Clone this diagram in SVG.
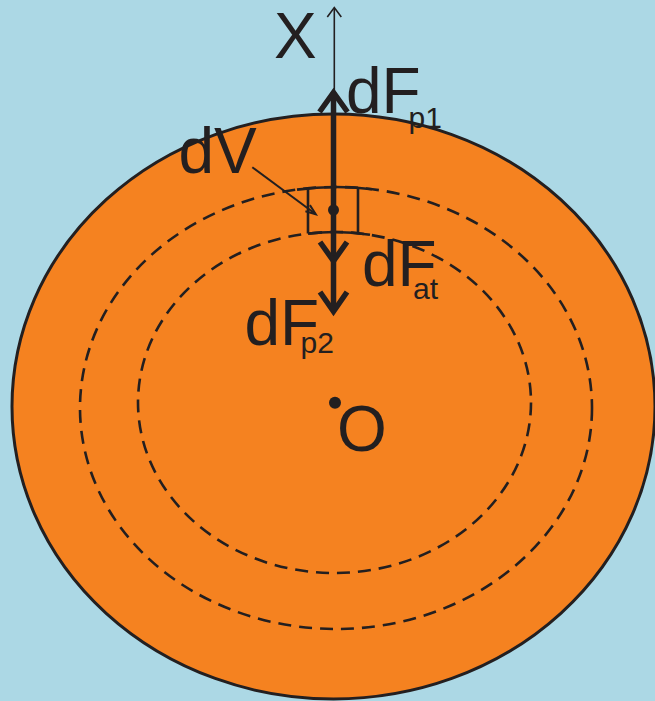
<svg xmlns="http://www.w3.org/2000/svg" width="655" height="701" viewBox="0 0 655 701">
<style>
.ink{stroke:#231f20;fill:none}
.dash{stroke:#231f20;fill:none;stroke-width:2.6;stroke-dasharray:13 8}
.lbl{font-family:"Liberation Sans",Arial,sans-serif;font-size:64px;fill:#231f20}
.sub{font-family:"Liberation Sans",Arial,sans-serif;font-size:30px;fill:#231f20}
.thick{stroke:#231f20;fill:none;stroke-width:5.5;stroke-linejoin:miter;stroke-miterlimit:10}
</style>
<rect x="0" y="0" width="655" height="701" fill="#acd8e5"/>
<g id="body">
<ellipse cx="333.5" cy="406.5" rx="321.5" ry="292.5" fill="#f58220" stroke="#231f20" stroke-width="3"/>
</g>
<g id="shell-outer">
<ellipse class="dash" cx="336" cy="408" rx="256" ry="221"/>
</g>
<g id="shell-inner">
<ellipse class="dash" cx="334.5" cy="402.5" rx="196.5" ry="170.5"/>
</g>
<g id="volume-element">
<path class="ink" stroke-width="2.6" d="M297 189.6 A256 221 0 0 1 372 189.2"/>
<path class="ink" stroke-width="2.6" d="M308 233.6 A196.5 170.5 0 0 1 370 234.8"/>
<path class="ink" stroke-width="2.6" d="M308 188.3 V233.6 M358 187.8 V234.3"/>
</g>
<g id="connectors">
<line class="ink" stroke-width="1.6" x1="334.3" y1="8" x2="334.3" y2="100"/>
<polyline class="ink" stroke-width="1.6" points="327.3,17 334.3,7.5 341.3,17"/>
<line class="thick" x1="333.5" y1="92" x2="333.5" y2="311"/>
<polyline class="thick" points="319.5,112 333.5,92.5 347.5,112"/>
<polyline class="thick" points="320,242 333.5,261 347,242"/>
<polyline class="thick" points="320,292 333.5,311.5 347,292"/>
<line class="ink" stroke-width="2" x1="252.3" y1="167.3" x2="315.5" y2="214"/>
<polyline class="ink" stroke-width="2" points="309.9,205.1 315.8,214.2 305.4,211.2"/>
</g>
<g id="point-dV">
<circle cx="333.5" cy="210" r="5.5" fill="#231f20"/>
</g>
<g id="point-O">
<circle cx="335" cy="402.7" r="6" fill="#231f20"/>
<text class="lbl" x="337" y="451">O</text>
</g>
<g id="label-X"><text class="lbl" x="274" y="58">X</text></g>
<g id="label-dV"><text class="lbl" x="178.5" y="173">dV</text></g>
<g id="label-dFp1"><text class="lbl" x="346" y="113">dF</text><text class="sub" x="408.5" y="128">p1</text></g>
<g id="label-dFat"><text class="lbl" x="362" y="286">dF</text><text class="sub" x="413" y="298.5">at</text></g>
<g id="label-dFp2"><text class="lbl" x="244.5" y="345">dF</text><text class="sub" x="300.5" y="352.5">p2</text></g>
</svg>
